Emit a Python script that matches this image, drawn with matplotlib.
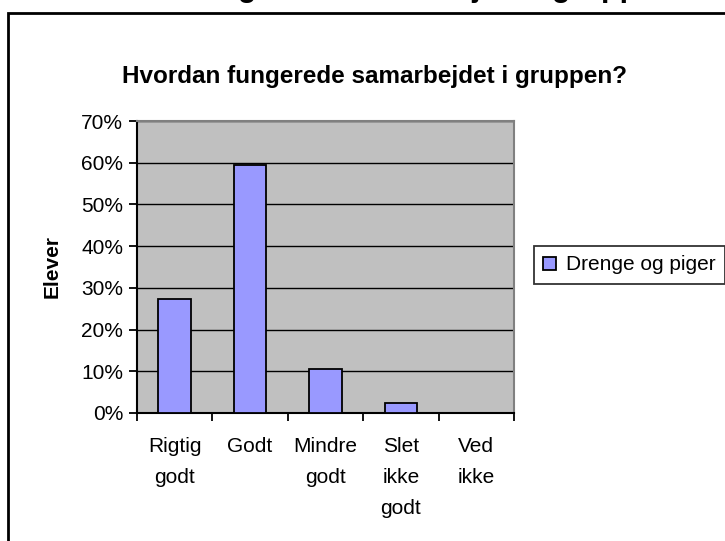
import numpy as np
import matplotlib.pyplot as plt
from matplotlib.patches import Rectangle
from matplotlib.ticker import PercentFormatter

plt.rcParams['font.family'] = ['Liberation Sans', 'DejaVu Sans']

#data
categories = ['Rigtig\ngodt', 'Godt', 'Mindre\ngodt', 'Slet\nikke\ngodt', 'Ved\nikke']
values = [27.3, 59.5, 10.5, 2.4, 0.0]
series_name = 'Drenge og piger'
title = 'Hvordan fungerede samarbejdet i gruppen?'
ylabel = 'Elever'

W, H = 725, 541
fig = plt.figure(figsize=(W/100, H/100), dpi=100)

#outer frame, runs off the right and bottom edge
fig.patches.append(Rectangle((8/W, -0.05), 1.2, 1 - 13/H + 0.05, transform=fig.transFigure,
                             fill=False, edgecolor='black', linewidth=2))

#cut off title of the chart above, only descenders show
fig.text(375/W, 1 + 4/H, title, ha='center', va='baseline', fontsize=22, fontweight='bold')

ax = fig.add_axes([137/W, (H-413)/H, (514-137)/W, (413-121)/H])
ax.set_facecolor('#c0c0c0')

x = np.arange(len(categories))
bars = ax.bar(x, values, width=0.43, color='#9999ff', edgecolor='black', linewidth=1.3,
              label=series_name, zorder=3)

ax.set_xlim(-0.5, len(categories) - 0.5)
ax.set_ylim(0, 70)
ax.set_yticks(np.arange(0, 71, 10))
ax.yaxis.set_major_formatter(PercentFormatter(decimals=0))
ax.yaxis.grid(True, color='black', linewidth=1, zorder=1)
ax.set_axisbelow(True)

#category ticks sit on the boundaries, labels in the middle
ax.set_xticks(np.arange(-0.5, len(categories), 1))
ax.set_xticklabels([])
ax.set_xticks(x, minor=True)
ax.set_xticklabels(categories, minor=True, fontsize=15, linespacing=1.8)
ax.tick_params(axis='x', which='minor', length=0, pad=17)
ax.tick_params(axis='x', which='major', length=6, width=1.3, direction='out')
ax.tick_params(axis='y', length=6, width=1.3, labelsize=15, pad=4)

for s in ['top', 'right']:
    ax.spines[s].set_color('#808080')
    ax.spines[s].set_linewidth(1.5)
for s in ['left', 'bottom']:
    ax.spines[s].set_color('black')
    ax.spines[s].set_linewidth(1.5)

ax.set_ylabel(ylabel, fontsize=15, fontweight='bold', labelpad=14)

fig.text(375/W, 1 - 76/H, title, ha='center', va='center', fontsize=17.5, fontweight='bold')

leg = fig.legend(loc='center left', bbox_to_anchor=(534/W, 1 - 265/H), fontsize=15,
                 frameon=True, fancybox=False, edgecolor='black', handlelength=0.6,
                 handleheight=0.6, handletextpad=0.5, borderpad=0.45, borderaxespad=0)
leg.get_frame().set_linewidth(1.3)

fig.savefig('out.png', dpi=100)
